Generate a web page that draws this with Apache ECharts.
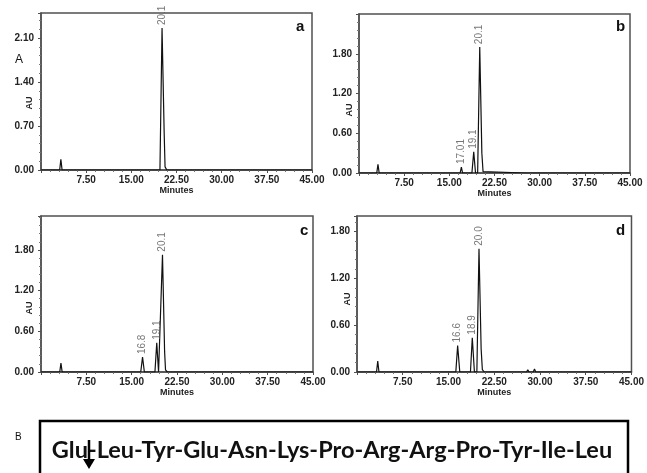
<!DOCTYPE html>
<html>
<head>
<meta charset="utf-8">
<script src="https://cdn.jsdelivr.net/npm/echarts@6/dist/echarts.min.js"></script>
<style>
html,body{margin:0;padding:0;background:#fff;}
#chart{width:647px;height:473px;}
</style>
</head>
<body>
<div id="chart"></div>
<script>
// ---- Data (minutes vs AU) ----
const xTickLabels = ['7.50','15.00','22.50','30.00','37.50','45.00'];
const yTicksA = ['0.00','0.70','1.40','2.10'];
const yTicksBCD = ['0.00','0.60','1.20','1.80'];

const timeA = [0, 3.1, 3.3, 3.5, 19.75, 20.1, 20.45, 20.6, 20.9, 27.8, 28.0, 28.2, 29.0, 29.2, 29.4, 45];
const auA   = [0, 0, 0.17, 0, 0, 2.26, 0.6, 0.05, 0, 0, 0.01, 0, 0, 0.01, 0, 0];
const peakTimeA = [20.1];
const peakAuA = [2.26];
const peakLabelA = ['20.1'];

const timeB = [0, 2.95, 3.15, 3.35, 16.8, 17.0, 17.2, 18.75, 19.05, 19.35, 19.7, 20.05, 20.4, 20.6, 20.9, 27.7, 27.9, 28.1, 28.8, 29.0, 29.2, 45];
const auB   = [0, 0, 0.13, 0, 0, 0.09, 0, 0, 0.32, 0, 0, 1.90, 0.3, 0.02, 0, 0, 0.02, 0, 0, 0.02, 0, 0];
const peakTimeB = [17.0, 19.05, 20.05];
const peakAuB = [0.09, 0.32, 1.90];
const peakLabelB = ['17.01', '19.1', '20.1'];

const timeC = [0, 3.1, 3.3, 3.5, 16.5, 16.8, 17.1, 18.85, 19.15, 19.45, 19.75, 20.1, 20.45, 20.6, 20.9, 28.3, 28.5, 28.7, 29.1, 29.3, 29.5, 45];
const auC   = [0, 0, 0.13, 0, 0, 0.22, 0, 0, 0.43, 0, 0, 1.73, 0.3, 0.03, 0, 0, 0.01, 0, 0, 0.015, 0, 0];
const peakTimeC = [16.8, 19.15, 20.1];
const peakAuC = [0.22, 0.43, 1.73];
const peakLabelC = ['16.8', '19.1', '20.1'];

const timeD = [0, 3.2, 3.4, 3.6, 4.2, 4.4, 4.6, 14.8, 15.0, 15.2, 16.2, 16.5, 16.85, 18.6, 18.9, 19.25, 19.65, 20.0, 20.35, 20.55, 20.85, 27.8, 28.0, 28.2, 28.9, 29.1, 29.3, 45];
const auD   = [0, 0, 0.14, 0, 0, 0.01, 0, 0, 0.01, 0, 0, 0.34, 0, 0, 0.44, 0, 0, 1.58, 0.3, 0.03, 0, 0, 0.03, 0, 0, 0.04, 0, 0];
const peakTimeD = [16.5, 18.9, 20.0];
const peakAuD = [0.34, 0.44, 1.58];
const peakLabelD = ['16.6', '18.9', '20.0'];

const sequenceText = 'Glu-Leu-Tyr-Glu-Asn-Lys-Pro-Arg-Arg-Pro-Tyr-Ile-Leu';

// ---- Build ----
const panels = [
  {t: timeA, v: auA, pt: peakTimeA, pv: peakAuA, pl: peakLabelA, yMax: 2.5, yInt: 0.7, yTicks: yTicksA,
   grid: {left: 41, top: 13, width: 271, height: 157}, au: [30, 103]},
  {t: timeB, v: auB, pt: peakTimeB, pv: peakAuB, pl: peakLabelB, yMax: 2.4, yInt: 0.6, yTicks: yTicksBCD,
   grid: {left: 359, top: 14, width: 271, height: 159}, au: [350, 110]},
  {t: timeC, v: auC, pt: peakTimeC, pv: peakAuC, pl: peakLabelC, yMax: 2.3, yInt: 0.6, yTicks: yTicksBCD,
   grid: {left: 41, top: 216, width: 272, height: 156}, au: [30, 308]},
  {t: timeD, v: auD, pt: peakTimeD, pv: peakAuD, pl: peakLabelD, yMax: 2.0, yInt: 0.6, yTicks: yTicksBCD,
   grid: {left: 357, top: 216, width: 275, height: 156}, au: [348, 299]}
];

const axisFont = {fontFamily: 'Liberation Sans', fontWeight: 'bold', fontSize: 10, color: '#222'};
const frameColor = '#505050';

const grids = [], xAxes = [], yAxes = [], series = [], graphic = [];
panels.forEach((p, i) => {
  grids.push(Object.assign({show: true, borderColor: frameColor, borderWidth: 1.5, backgroundColor: 'transparent'}, p.grid));
  xAxes.push({
    type: 'value', gridIndex: i, min: 0, max: 45, interval: 7.5,
    name: 'Minutes', nameLocation: 'middle', nameGap: 16,
    nameTextStyle: {fontFamily: 'Liberation Sans', fontWeight: 'bold', fontSize: 9, color: '#222'},
    axisLine: {show: true, lineStyle: {color: frameColor, width: 1.5}},
    axisTick: {show: true, length: 3, lineStyle: {color: frameColor}},
    minorTick: {show: true, splitNumber: 5, length: 2, lineStyle: {color: '#777'}},
    splitLine: {show: false},
    axisLabel: Object.assign({margin: 5, showMinLabel: true, showMaxLabel: true,
      formatter: v => { const s = v.toFixed(2); return xTickLabels.indexOf(s) >= 0 ? s : ''; }}, axisFont)
  });
  yAxes.push({
    type: 'value', gridIndex: i, min: 0, max: p.yMax, interval: p.yInt,
    axisLine: {show: true, lineStyle: {color: frameColor, width: 1.5}},
    axisTick: {show: true, length: 3, lineStyle: {color: frameColor}},
    minorTick: {show: true, splitNumber: 5, length: 2, lineStyle: {color: '#777'}},
    splitLine: {show: false},
    axisLabel: Object.assign({margin: 7,
      formatter: v => { const s = v.toFixed(2); return p.yTicks.indexOf(s) >= 0 ? s : ''; }}, axisFont)
  });
  series.push({
    type: 'line', xAxisIndex: i, yAxisIndex: i, showSymbol: false, symbol: 'none',
    lineStyle: {color: '#111', width: 1.2}, animation: false,
    data: p.t.map((t, k) => [t, p.v[k]])
  });
  series.push({
    type: 'scatter', xAxisIndex: i, yAxisIndex: i, symbolSize: 0, animation: false, z: 5,
    data: p.pt.map((t, k) => [t, p.pv[k]]),
    label: {
      show: true, position: 'top', distance: 3, rotate: 90, align: 'left', verticalAlign: 'middle',
      formatter: q => p.pl[q.dataIndex],
      fontFamily: 'Liberation Sans', fontSize: 10, color: '#555'
    }
  });
  graphic.push({type: 'text', x: p.au[0], y: p.au[1], rotation: Math.PI / 2,
    style: {text: 'AU', fontFamily: 'Liberation Sans', fontWeight: 'bold', fontSize: 9, fill: '#222',
      textAlign: 'center', textVerticalAlign: 'middle'}});
});

const letterStyle = {fontFamily: 'Liberation Sans', fontWeight: 'bold', fontSize: 15, fill: '#111'};
graphic.push(
  {type: 'text', left: 296, top: 19, style: Object.assign({text: 'a'}, letterStyle)},
  {type: 'text', left: 616, top: 19, style: Object.assign({text: 'b'}, letterStyle)},
  {type: 'text', left: 300, top: 223, style: Object.assign({text: 'c'}, letterStyle)},
  {type: 'text', left: 616, top: 223, style: Object.assign({text: 'd'}, letterStyle)},
  {type: 'text', left: 15, top: 54, style: {text: 'A', fontFamily: 'Liberation Sans', fontSize: 12, fill: '#111'}},
  {type: 'text', left: 15, top: 432, style: {text: 'B', fontFamily: 'Liberation Sans', fontSize: 10, fill: '#111'}},
  {type: 'rect', shape: {x: 40, y: 421, width: 588, height: 80}, style: {fill: 'none', stroke: '#000', lineWidth: 2.5}},
  {type: 'text', x: 332, y: 450, style: {text: sequenceText,
    fontFamily: 'Lato', fontWeight: 'bold', fontSize: 23.5, fill: '#111', textAlign: 'center', textVerticalAlign: 'middle'}},
  {type: 'line', shape: {x1: 89, y1: 440, x2: 89, y2: 462}, style: {stroke: '#000', lineWidth: 2.5}},
  {type: 'polygon', shape: {points: [[83, 459], [95, 459], [89, 469]]}, style: {fill: '#000'}}
);

const chart = echarts.init(document.getElementById('chart'), null, {renderer: 'canvas'});
chart.setOption({
  animation: false,
  backgroundColor: '#fff',
  grid: grids, xAxis: xAxes, yAxis: yAxes, series: series, graphic: graphic
});
</script>
</body>
</html>
